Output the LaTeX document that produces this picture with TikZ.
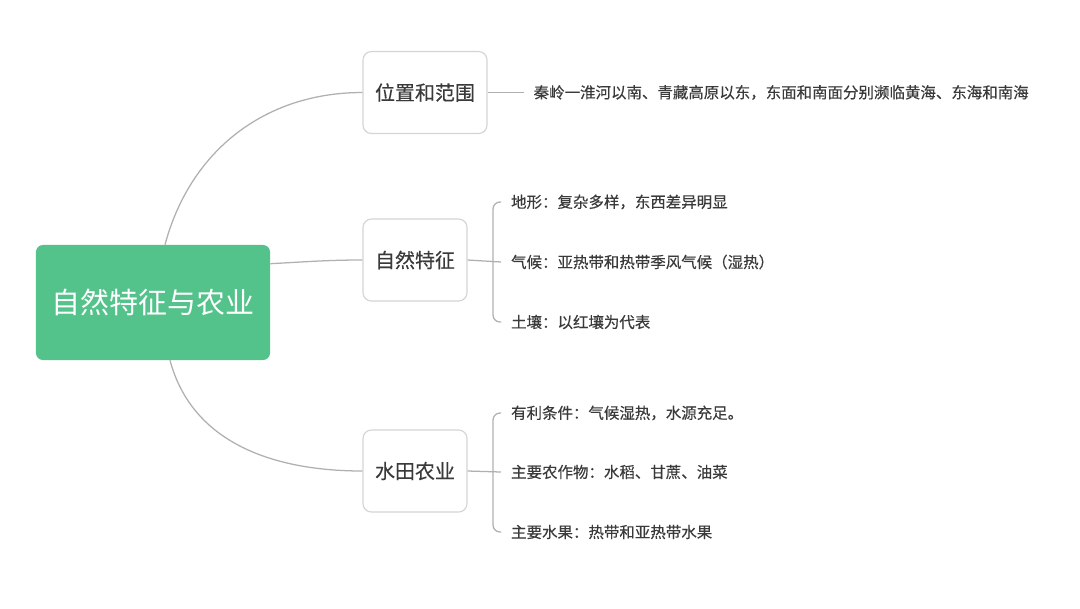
\documentclass[tikz,border=0pt]{standalone}
\usepackage{fontspec}
\setmainfont{Noto Sans CJK SC}
\newfontfamily\mapfont{Noto Sans CJK SC}[FakeBold=0.35]
\usetikzlibrary{positioning}
\definecolor{MapGreen}{RGB}{84,194,139}
\definecolor{TextGray}{RGB}{58,58,58}
\definecolor{BoxBorder}{RGB}{212,212,212}
\definecolor{LineGray}{RGB}{176,176,176}
\tikzset{
  central/.style={fill=MapGreen,rounded corners=5pt,minimum width=5.85cm,
    minimum height=2.875cm,text=white,font=\fontsize{20.6}{24}\selectfont},
  topic/.style={draw=BoxBorder,fill=white,rounded corners=6pt,line width=0.8pt,
    minimum height=2.05cm,text=TextGray,font=\mapfont\fontsize{14.2}{17}\selectfont},
  leaf/.style={anchor=west,inner xsep=7pt,text=TextGray,
    font=\mapfont\fontsize{11}{13}\selectfont},
  branch/.style={draw=LineGray,line width=0.9pt}
}

\begin{document}
\begin{tikzpicture}[x=0.025cm,y=-0.025cm,node distance=0.9cm]
      \useasboundingbox (0,0) rectangle (1080,608);
      \node[central] (root) at (153,302.5) {自然特征与农业};
      \node[topic,minimum width=3.1cm] (pos) at (425,92.5) {位置和范围};
      \node[topic,minimum width=2.6cm] (nat) at (415,260) {自然特征};
      \node[topic,minimum width=2.6cm] (rice) at (415,471) {水田农业};
      % first branch
      \node[leaf,right=of pos] (posleaf) {秦岭一淮河以南、青藏高原以东，东面和南面分别濒临黄海、东海和南海};
      % second branch
      \node[leaf] (terrain) at (501,202) {地形：复杂多样，东西差异明显};
      \node[leaf] (climate) at (501,262) {气候：亚热带和热带季风气候（湿热）};
      \node[leaf] (soil) at (501,322) {土壤：以红壤为代表};
      \coordinate (natfork) at (493,262);
      % third branch
      \node[leaf] (cond) at (501,413) {有利条件：气候湿热，水源充足。};
      \node[leaf] (crop) at (501,472) {主要农作物：水稻、甘蔗、油菜};
      \node[leaf] (fruit) at (501,532) {主要水果：热带和亚热带水果};
      \coordinate (ricefork) at (493,472);
      \draw[branch] ([shift={(12,0)}]root.north) to[out=75,in=180] (pos.west);
      \draw[branch] ([shift={(0,19)}]root.north east) to[out=3,in=180] (nat.west);
      \draw[branch] ([shift={(17,0)}]root.south) to[out=-75,in=180] (rice.west);
      \draw[branch] (pos.east) -- (posleaf.west);
      \draw[branch] (nat.east) -- (climate.west);
      \draw[branch,rounded corners=5pt] (terrain.west) -| (natfork) |- (soil.west);
      \draw[branch] (rice.east) -- (crop.west);
      \draw[branch,rounded corners=5pt] (cond.west) -| (ricefork) |- (fruit.west);
    \end{tikzpicture}
\end{document}
